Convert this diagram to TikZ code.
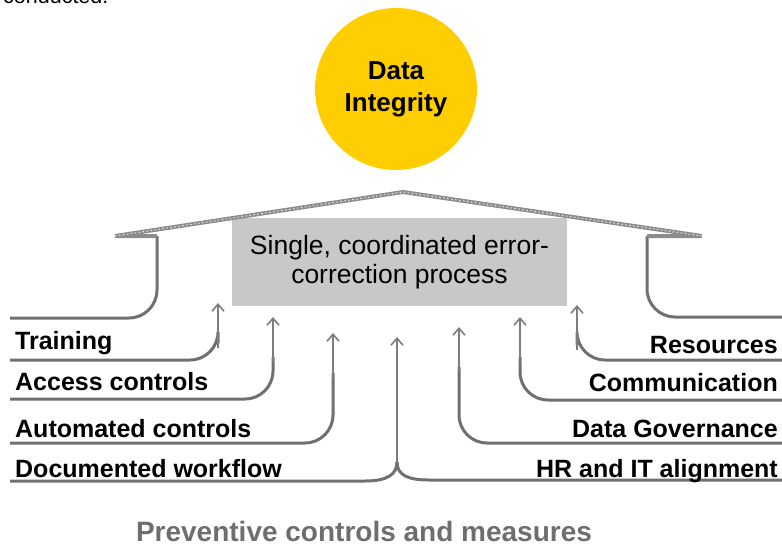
\documentclass[tikz,border=0pt]{standalone}
\usepackage{fontspec}
\setmainfont{Liberation Sans}
\usetikzlibrary{arrows.meta,calc}
\definecolor{sun}{RGB}{255,206,0}
\definecolor{boxgray}{RGB}{200,200,200}
\definecolor{linegray}{RGB}{112,112,112}
\definecolor{arrgray}{RGB}{125,125,125}
\definecolor{roofgray}{RGB}{140,140,140}
\definecolor{capgray}{RGB}{110,110,110}
\tikzset{
  base line/.style={draw=linegray, line width=3pt, rounded corners=28pt},
  up arrow/.style={draw=arrgray, line width=2pt, -{Straight Barb[length=7pt,width=12pt,line width=1.6pt]}},
  roof/.style={draw=roofgray, line width=4pt, line join=miter},
  roof tex/.style={draw=white!85!gray, line width=1pt, dash pattern=on 1.5pt off 2.5pt},
  lbl/.style={font=\bfseries\fontsize{25}{30}\selectfont, inner sep=0pt},
  lbl left/.style={lbl, anchor=base west},
  lbl right/.style={lbl, anchor=base east}
}
\begin{document}
\begin{tikzpicture}[x=1pt,y=-1pt]
\useasboundingbox (0,0) rectangle (782,547);
% fragment of surrounding text (cut off at the top edge, as in the source)
\node[anchor=base west, inner sep=0pt, font=\fontsize{21.5}{24}\selectfont] (frag) at (3,3) {conducted.};
% goal circle
\node[circle, fill=sun, minimum size=162pt, inner sep=0pt, align=center,
      font=\bfseries\fontsize{26}{32}\selectfont] (goal) at (396,89) {Data\\Integrity};
% central box
\node[fill=boxgray, minimum width=335pt, minimum height=88pt, inner sep=0pt, align=center,
      font=\fontsize{26.5}{29}\selectfont] (box) at (399.5,262) {Single, coordinated error-\\correction process};
% roof and walls
\coordinate (lw0) at (10,318);
\coordinate (lw1) at (157,236);
\coordinate (le) at (115,236);
\coordinate (peak) at (403,192);
\coordinate (re) at (702,236);
\coordinate (rw1) at (647,236);
\coordinate (rw0) at (782,317);
\draw[base line] (lw0) -| (lw1);
\draw[base line] (rw0) -| (rw1);
\draw[roof] (lw1) -- (le) -- (peak) -- (re) -- (rw1);
\draw[roof tex] (le) -- (peak) -- (re);
% left measures
\coordinate (tr0) at (10,360);   \coordinate (tr1) at (218,303);
\coordinate (ac0) at (10,399);   \coordinate (ac1) at (273,317);
\coordinate (au0) at (10,443);   \coordinate (au1) at (333,333);
\coordinate (dw0) at (10,481);   \coordinate (dw1) at (365,481);
\coordinate (join) at (397,462); \coordinate (jtip) at (397,337);
% right measures
\coordinate (re0) at (782,360);  \coordinate (re1) at (577,305);
\coordinate (co0) at (782,400);  \coordinate (co1) at (520,317);
\coordinate (dg0) at (782,443);  \coordinate (dg1) at (459,327);
\coordinate (hr0) at (782,480);  \coordinate (hr1) at (429,480);
% connectors
\draw[base line] (tr0) -| ($(tr1)+(0,40)$);
\draw[base line] (ac0) -| ($(ac1)+(0,40)$);
\draw[base line] (au0) -| ($(au1)+(0,40)$);
\draw[base line] (re0) -| ($(re1)+(0,40)$);
\draw[base line] (co0) -| ($(co1)+(0,40)$);
\draw[base line] (dg0) -| ($(dg1)+(0,40)$);
\draw[draw=linegray, line width=3pt] (dw0) -- (dw1) .. controls (388,481) and (397,474) .. (join);
\draw[draw=linegray, line width=3pt] (hr0) -- (hr1) .. controls (406,480) and (397,474) .. (join);
\draw[up arrow] ($(tr1)+(0,45)$) -- (tr1);
\draw[up arrow] ($(ac1)+(0,45)$) -- (ac1);
\draw[up arrow] ($(au1)+(0,45)$) -- (au1);
\draw[up arrow] ($(re1)+(0,45)$) -- (re1);
\draw[up arrow] ($(co1)+(0,45)$) -- (co1);
\draw[up arrow] ($(dg1)+(0,45)$) -- (dg1);
\draw[up arrow] (join) -- (jtip);
% labels
\node[lbl left] (training) at (15,349) {Training};
\node[lbl left] (access) at (15,390) {Access controls};
\node[lbl left] (automated) at (15,437) {Automated controls};
\node[lbl left] (documented) at (15,477) {Documented workflow};
\node[lbl right] (resources) at (778,353) {Resources};
\node[lbl right] (communication) at (778,391) {Communication};
\node[lbl right] (governance) at (778,437) {Data Governance};
\node[lbl right] (hrit) at (778,477) {HR and IT alignment};
% caption
\node[anchor=base, inner sep=0pt, text=capgray, font=\bfseries\fontsize{28}{32}\selectfont] (caption) at (364,541) {Preventive controls and measures};
\end{tikzpicture}
\end{document}
